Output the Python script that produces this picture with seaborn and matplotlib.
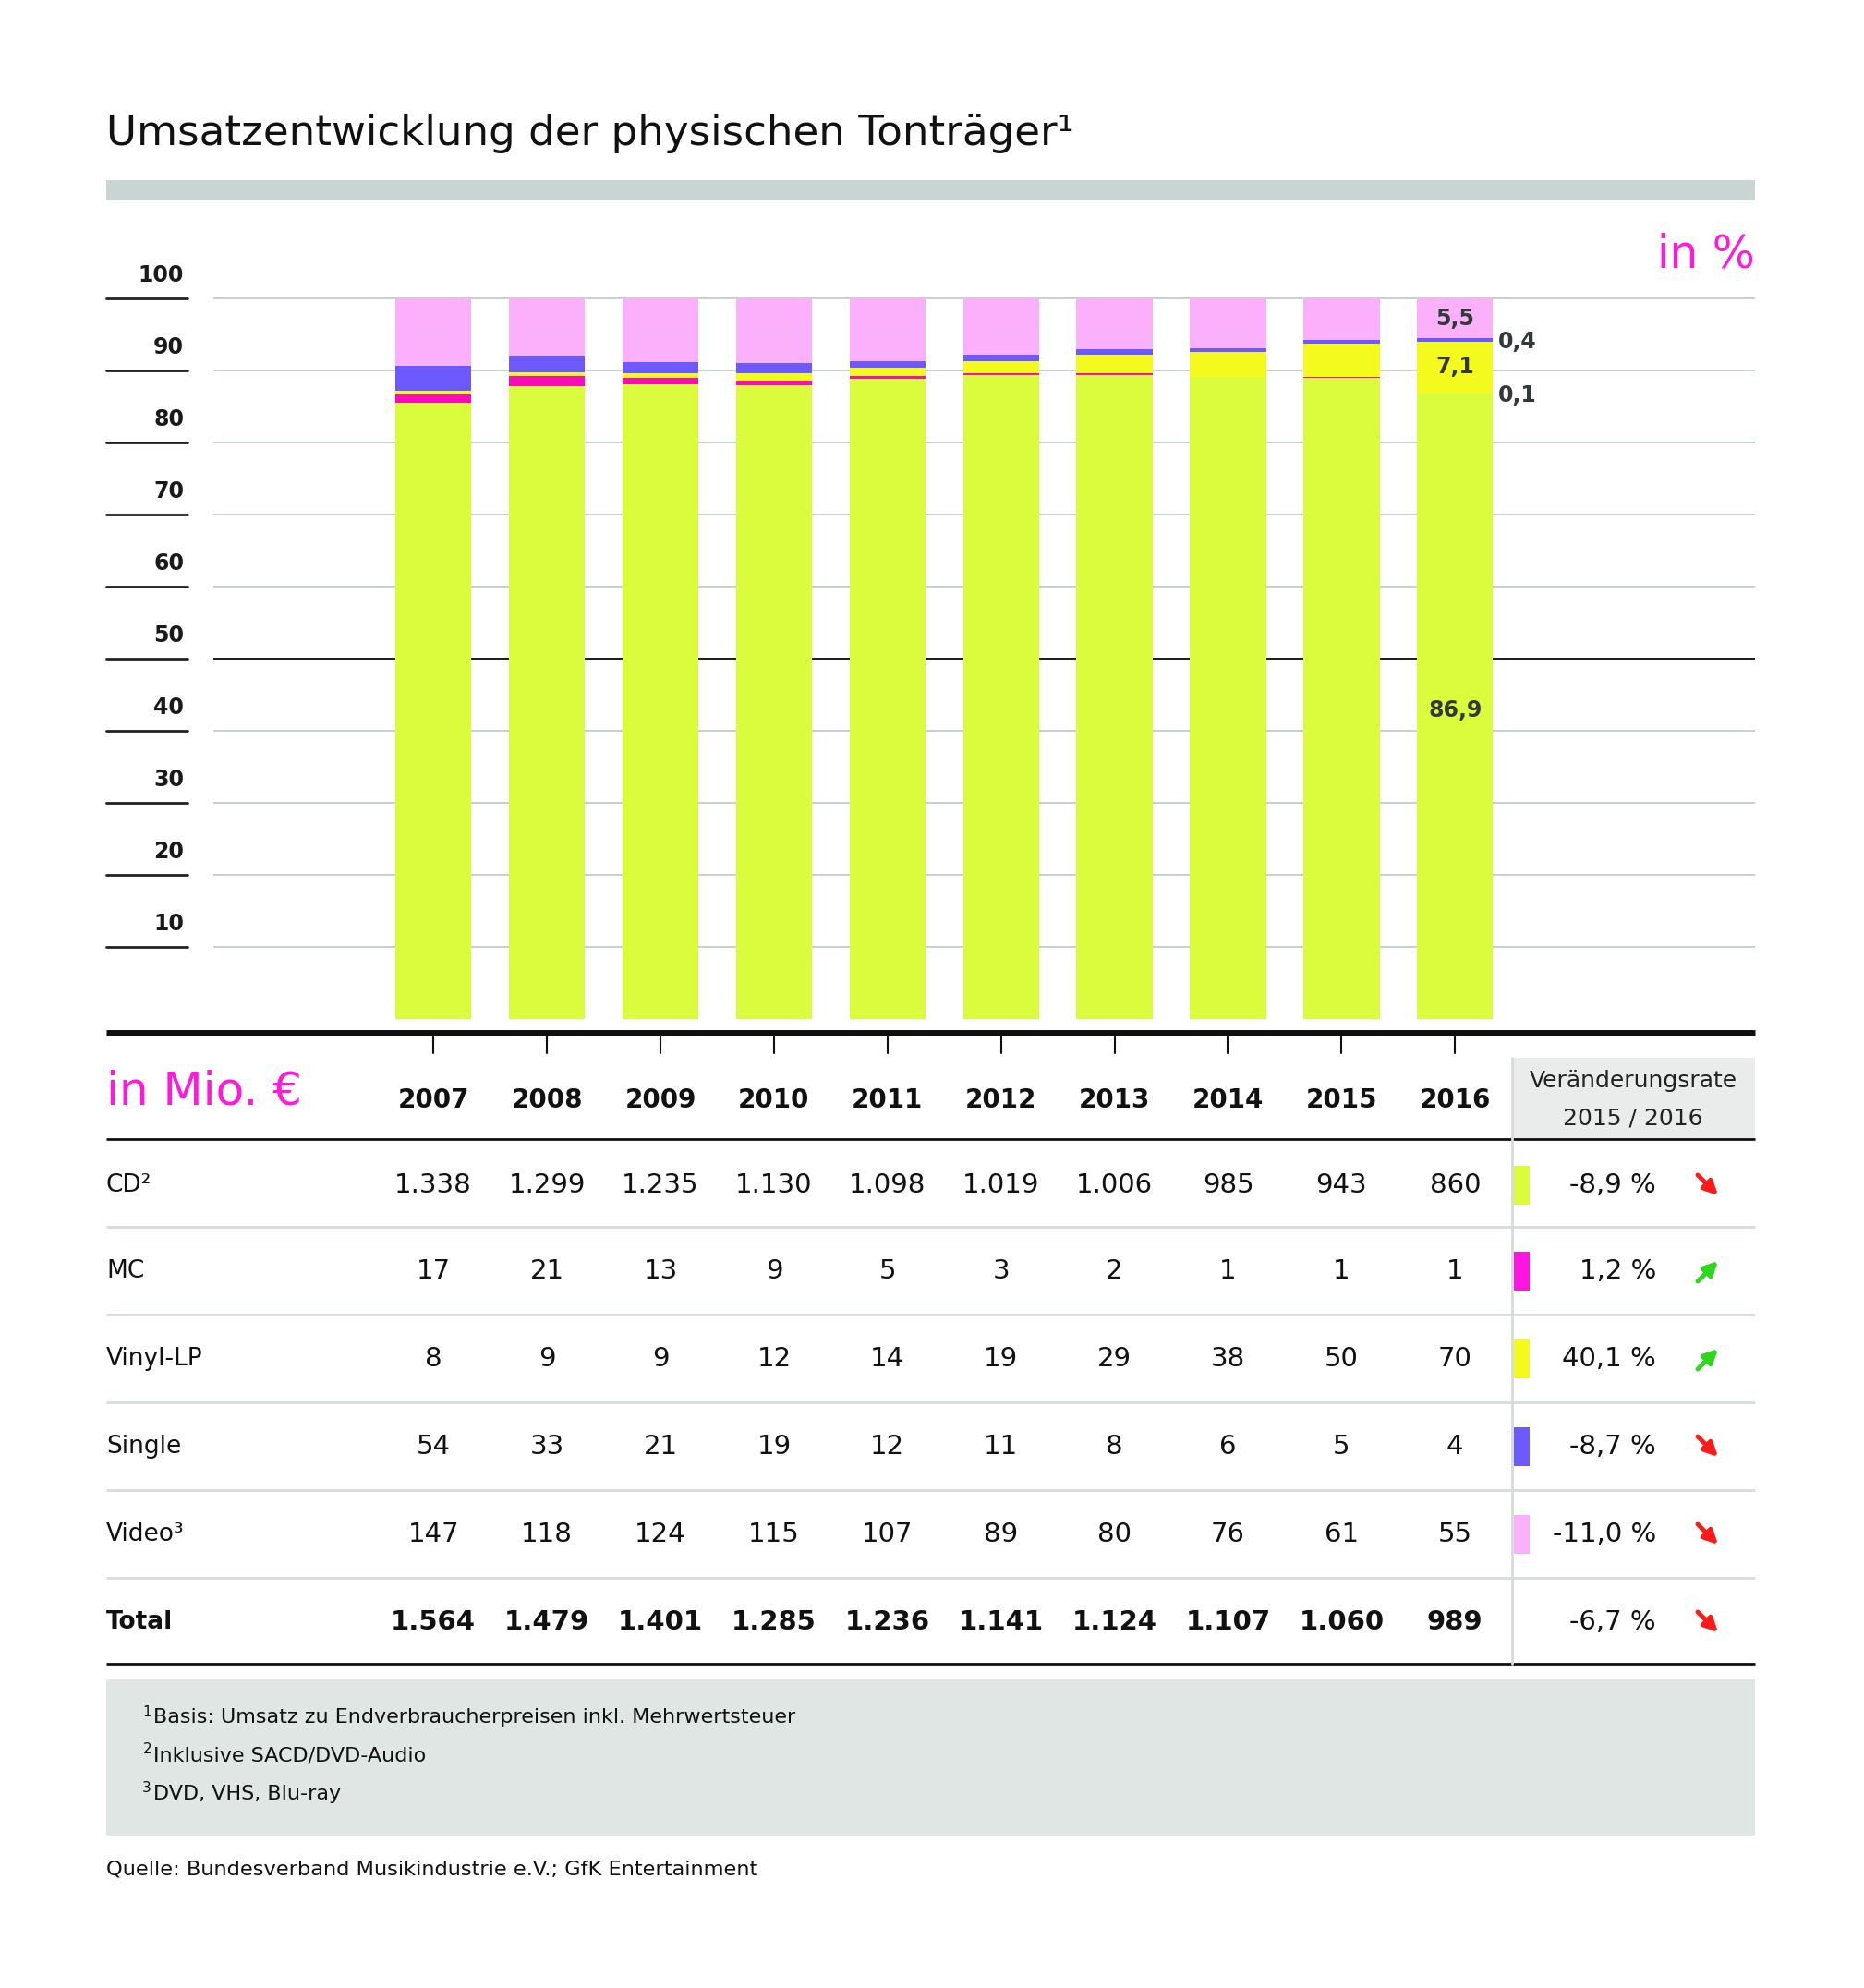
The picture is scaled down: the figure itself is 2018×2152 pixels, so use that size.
import matplotlib
matplotlib.use("Agg")
import matplotlib.pyplot as plt
import matplotlib.transforms as mtransforms
from matplotlib import font_manager
from matplotlib.lines import Line2D
from matplotlib.patches import Rectangle, FancyArrowPatch
import seaborn as sns
import pandas as pd

# --- data (Mio. EUR) ---
years = [2007, 2008, 2009, 2010, 2011, 2012, 2013, 2014, 2015, 2016]
cd = [1338, 1299, 1235, 1130, 1098, 1019, 1006, 985, 943, 860]
mc = [17, 21, 13, 9, 5, 3, 2, 1, 1, 1]
vinyl = [8, 9, 9, 12, 14, 19, 29, 38, 50, 70]
single = [54, 33, 21, 19, 12, 11, 8, 6, 5, 4]
video = [147, 118, 124, 115, 107, 89, 80, 76, 61, 55]
total = [1564, 1479, 1401, 1285, 1236, 1141, 1124, 1107, 1060, 989]

row_labels = ["CD²", "MC", "Vinyl-LP", "Single", "Video³", "Total"]
change_txt = ["-8,9 %", "1,2 %", "40,1 %", "-8,7 %", "-11,0 %", "-6,7 %"]
change_up = [False, True, True, False, False, False]
labels_2016 = ["86,9", "0,1", "7,1", "0,4", "5,5"]

series = [cd, mc, vinyl, single, video]
colors = ["#dafc3c", "#ff0ab8", "#f5fa1e", "#6c5aff", "#fbb0fb"]
swatch_colors = ["#dafc3c", "#ff14e0", "#f5fa1e", "#6c5aff", "#fbb0fb"]

names = {f.name for f in font_manager.fontManager.ttflist}
cond = next((n for n in ["DejaVu Sans Condensed", "Liberation Sans Narrow"] if n in names), "DejaVu Sans")

W, H = 2018, 2152
fig = plt.figure(figsize=(W / 100, H / 100), dpi=100)
fig.patch.set_facecolor("white")
sns.set_style("white")
plt.rcParams["font.family"] = ["DejaVu Sans"]

L, R = 115, 1900  # left / right edge of the layout


def fx(x):
    return x / W


def fy(y):
    return 1 - y / H


def hline(x0, x1, y, color, lw):
    fig.add_artist(Line2D([fx(x0), fx(x1)], [fy(y), fy(y)], transform=fig.transFigure,
                          color=color, lw=lw, solid_capstyle="butt"))


def rect(x0, y0, x1, y1, color):
    fig.add_artist(Rectangle((fx(x0), fy(y1)), (x1 - x0) / W, (y1 - y0) / H,
                             transform=fig.transFigure, color=color, lw=0))


# title + band
fig.text(fx(L), fy(145), "Umsatzentwicklung der physischen Tonträger¹", fontsize=32.5,
         family=cond, va="center", ha="left", color="#111111")
rect(L, 195, R, 217, "#c9d5d2")
fig.text(fx(R), fy(275), "in %", fontsize=35, family=cond, color="#ff1ad9",
         ha="right", va="center")

# --- stacked bar chart ---
ax = fig.add_axes([fx(230.5), fy(1118), fx(R) - fx(230.5), (1118 - 316) / H])
totals = [sum(v) for v in zip(*series)]
cum = []
run = [0.0] * len(years)
for s in series:
    run = [r + 100 * v / t for r, v, t in zip(run, s, totals)]
    cum.append(run)

for level in [10, 20, 30, 40, 60, 70, 80, 90, 100]:
    ax.axhline(level, color="#c8d0cd", lw=1.4, zorder=0)
ax.axhline(50, color="#1a1a1a", lw=1.4, zorder=0)

for vals, col in reversed(list(zip(cum, colors))):
    df = pd.DataFrame({"year": [str(y) for y in years], "share": vals})
    sns.barplot(data=df, x="year", y="share", color=col, saturation=1, width=0.67,
                errorbar=None, ax=ax, zorder=2, linewidth=0)

ax.set_xlim(-1.942, 11.642)
ax.set_ylim(-1.9, 100.9)
ax.set_xticks([])
ax.set_yticks([])
ax.set_xlabel("")
ax.set_ylabel("")
sns.despine(ax=ax, left=True, bottom=True)
ax.patch.set_alpha(0)

# y labels on the left with short rules
ytr = mtransforms.blended_transform_factory(fig.transFigure, ax.transData)
for level in range(10, 101, 10):
    ax.add_artist(Line2D([fx(L), fx(203)], [level, level], transform=ytr,
                         color="#222222", lw=2, clip_on=False))
    ax.text(fx(199), level + 3.2, str(level), transform=ytr, ha="right", va="center",
            fontsize=17, fontweight="bold", family=cond, color="#1a1a1a", clip_on=False)

# 2016 labels
i16 = len(years) - 1
bottoms = [[0.0] * len(years)] + cum[:-1]
lab_col = "#33393b"
seg_mid = [(b[i16] + c[i16]) / 2 for b, c in zip(bottoms, cum)]
kw = dict(va="center", fontsize=17, fontweight="bold", color=lab_col)
ax.text(i16, 42.8, labels_2016[0], ha="center", **kw)
ax.text(i16, seg_mid[2], labels_2016[2], ha="center", **kw)
ax.text(i16, seg_mid[4], labels_2016[4], ha="center", **kw)
ax.text(i16 + 0.38, cum[3][i16] - 0.5, labels_2016[3], ha="left", **kw)
ax.text(i16 + 0.38, cum[1][i16] - 0.4, labels_2016[1], ha="left", **kw)

# axis line and ticks
hline(L, R, 1118, "#111111", 5)
ctr = mtransforms.blended_transform_factory(ax.transData, fig.transFigure)
for i in range(len(years)):
    ax.add_artist(Line2D([i, i], [fy(1122), fy(1140)], transform=ctr, color="#111111",
                         lw=1.5, clip_on=False))

# --- table ---
fig.text(fx(L), fy(1182), "in Mio. €", fontsize=36, family=cond, color="#ff1ad9",
         ha="left", va="center")
rect(1637, 1145, R, 1233, "#e9ecea")
fig.text(fx(1768), fy(1170), "Veränderungsrate", fontsize=18, ha="center", va="center", color="#222222")
fig.text(fx(1768), fy(1211), "2015 / 2016", fontsize=18, ha="center", va="center", color="#222222")
for i, y in enumerate(years):
    ax.text(i, fy(1191), str(y), transform=ctr, ha="center", va="center", fontsize=20,
            fontweight="bold", color="#111111", clip_on=False)
hline(L, R, 1233, "#111111", 2)

row_y = [1283, 1376, 1471, 1566, 1661, 1756]
sep_y = [1328, 1423, 1518, 1613, 1708]
table_rows = series + [total]
for r, (lab, vals, yy) in enumerate(zip(row_labels, table_rows, row_y)):
    bold = lab == "Total"
    fig.text(fx(L), fy(yy), lab, fontsize=19, ha="left", va="center", color="#111111",
             fontweight="bold" if bold else "normal")
    for i, v in enumerate(vals):
        ax.text(i, fy(yy), f"{v:,}".replace(",", "."), transform=ctr, ha="center", va="center",
                fontsize=21, fontweight="bold" if bold else "normal", color="#111111", clip_on=False)
    if r < 5:
        rect(1639, yy - 21, 1656, yy + 21, swatch_colors[r])
    fig.text(fx(1793), fy(yy), change_txt[r], fontsize=21, ha="right", va="center", color="#111111")
    if change_up[r]:
        a, b, c = (1836, yy + 13), (1862, yy - 13), "#2fd61e"
    else:
        a, b, c = (1836, yy - 13), (1862, yy + 13), "#ff1a1a"
    fig.add_artist(FancyArrowPatch((fx(a[0]), fy(a[1])), (fx(b[0]), fy(b[1])),
                                   transform=fig.transFigure, arrowstyle="-|>",
                                   mutation_scale=22, color=c, lw=3.5))
for yy in sep_y:
    hline(L, R, yy, "#d6dcda", 2)
hline(L, R, 1801, "#111111", 2)
fig.add_artist(Line2D([fx(1637), fx(1637)], [fy(1145), fy(1801)], transform=fig.transFigure,
                      color="#d6dcda", lw=2))

# --- footnotes ---
rect(L, 1818, R, 1987, "#dfe6e3")
foot = ["Basis: Umsatz zu Endverbraucherpreisen inkl. Mehrwertsteuer",
        "Inklusive SACD/DVD-Audio",
        "DVD, VHS, Blu-ray"]
for k, (txt, yy) in enumerate(zip(foot, [1859, 1900, 1942])):
    fig.text(fx(166), fy(yy), txt, fontsize=16, family=cond, ha="left", va="center", color="#111111")
    fig.text(fx(164), fy(yy - 6), str(k + 1), fontsize=11, family=cond, ha="right", va="center", color="#111111")
fig.text(fx(L), fy(2023), "Quelle: Bundesverband Musikindustrie e.V.; GfK Entertainment",
         fontsize=16.2, family=cond, ha="left", va="center", color="#111111")

fig.savefig("out.png", dpi=100)
